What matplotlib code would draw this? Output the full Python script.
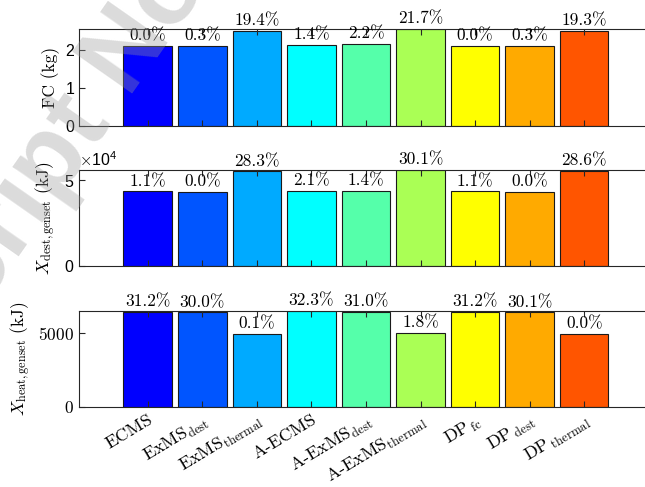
import matplotlib
matplotlib.use('Agg')
import matplotlib.pyplot as plt

plt.rcParams['font.family'] = ['Liberation Sans', 'DejaVu Sans']
plt.rcParams['mathtext.fontset'] = 'cm'

# strategies, in plotting order
strategies = ['ECMS', 'ExMS$_{\\rm dest}$', 'ExMS$_{\\rm thermal}$', 'A-ECMS',
              'A-ExMS$_{\\rm dest}$', 'A-ExMS$_{\\rm thermal}$',
              'DP$_{\\,\\rm fc}$', 'DP$_{\\,\\rm dest}$', 'DP$_{\\,\\rm thermal}$']
bar_colors = ['#0000ff', '#0055ff', '#00aaff', '#00ffff', '#55ffaa',
              '#aaff55', '#ffff00', '#ffaa00', '#ff5500']

# fuel consumption (kg)
fc = [2.115, 2.121, 2.525, 2.145, 2.162, 2.574, 2.115, 2.121, 2.523]
# exergy destruction of the genset (kJ)
x_dest = [43370, 42900, 55040, 43800, 43510, 55810, 43370, 42900, 55180]
# heat exergy of the genset (kJ)
x_heat = [6479, 6420, 4943, 6534, 6470, 5027, 6479, 6424, 4938]

ylabels = ['FC (kg)', '$X_{\\rm dest,genset}$ (kJ)', '$X_{\\rm heat,genset}$ (kJ)']
yticks = [[0, 1, 2], [0, 50000], [0, 5000]]

fig = plt.figure(figsize=(6.45, 4.87), dpi=100)
positions = [[0.1225, 0.7413, 0.9008, 0.1998],
             [0.1225, 0.4538, 0.9008, 0.1971],
             [0.1225, 0.1643, 0.9008, 0.1977]]

x = list(range(1, len(strategies) + 1))
axes = []
for i, data in enumerate([fc, x_dest, x_heat]):
    ax = fig.add_axes(positions[i])
    ax.bar(x, data, width=0.89, color=bar_colors, edgecolor='#1a1a1a', linewidth=0.8)
    ax.set_xlim(-0.259, 10.39)
    ax.set_ylim(0, max(data))

    # percentage above the best strategy
    best = min(data)
    for xi, v in zip(x, data):
        pct = (v / best - 1) * 100
        ax.annotate(f'{pct:.1f}%', (xi, v), xytext=(0, 4), textcoords='offset points',
                    ha='center', va='baseline', family='cmr10', fontsize=12.5)

    ax.set_xticks(x)
    ax.set_yticks(yticks[i])
    ax.tick_params(direction='in', top=True, right=False, length=4.5, width=0.8,
                   color='#262626', labelsize=11.5)
    for s in ax.spines.values():
        s.set_linewidth(0.8)
        s.set_color('#262626')
    ax.set_ylabel(ylabels[i], family='cmr10', fontsize=12.5)
    axes.append(ax)

axes[0].set_xticklabels([])
axes[1].set_xticklabels([])
axes[1].ticklabel_format(axis='y', style='sci', scilimits=(0, 0), useMathText=True)
axes[1].yaxis.get_offset_text().set_fontsize(11.5)

# bottom panel uses latex tick labels
axes[2].set_yticklabels(['$0$', '$5000$'], fontsize=12.5)
axes[2].set_xticklabels(strategies, rotation=31, ha='right', rotation_mode='anchor',
                        family='cmr10', fontsize=13)

# watermark, split at the "p" so both halves share one anchor
wm = dict(fontsize=76, fontweight='bold', color='#999999', alpha=0.35, rotation=55,
          rotation_mode='anchor', va='baseline', zorder=10)
fig.text(0.0857, 0.5806, 'Accepted Manuscri', ha='right', **wm)
fig.text(0.0857, 0.5806, 'pt Not Copyedited', ha='left', **wm)

fig.savefig('out.png', dpi=100)
